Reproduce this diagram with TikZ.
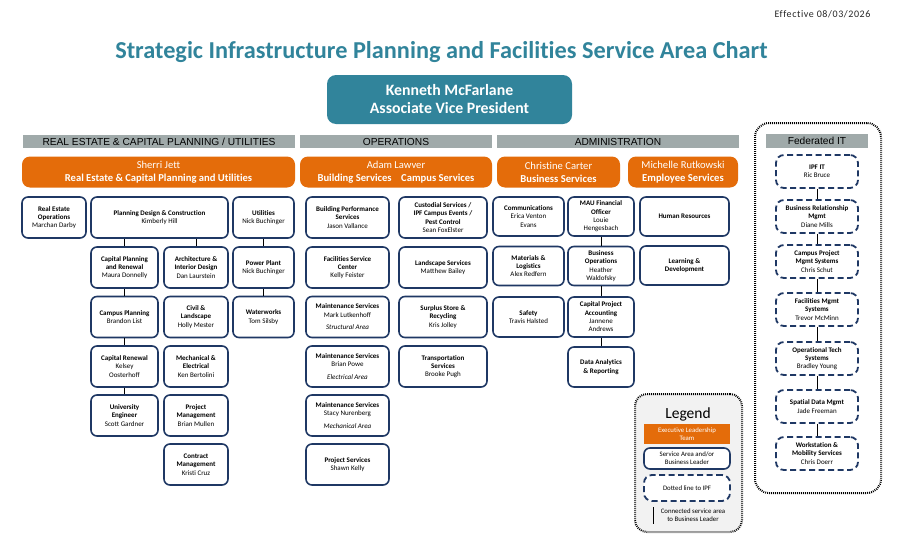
\documentclass[tikz,border=0pt]{standalone}
\usepackage{fontspec}
\setmainfont{Carlito}[Ligatures={TeX,NoCommon}]
\newfontfamily\arialf{Liberation Sans}
\definecolor{tealc}{RGB}{49,132,155}
\definecolor{orng}{RGB}{228,108,10}
\definecolor{navy}{RGB}{31,56,100}
\definecolor{barg}{RGB}{160,170,170}
\definecolor{legbg}{RGB}{242,242,242}
\tikzset{
  unit/.style={draw=navy, line width=1.6pt, rounded corners=6pt, fill=white, align=center,
    font=\fontsize{7}{8.3}\selectfont, inner sep=1pt},
  fedbox/.style={unit, dash pattern=on 6pt off 3.5pt, line width=1.8pt, rounded corners=8pt},
  lead/.style={fill=orng, rounded corners=8pt, text=white, align=center,
    font=\fontsize{10.6}{13}\selectfont, inner sep=1pt},
  secbar/.style={fill=barg, font=\arialf\fontsize{10.2}{10.5}\selectfont, text=black, inner sep=0pt},
  conn/.style={draw=black, line width=0.9pt},
  dotbox/.style={draw=black, line width=2pt, dash pattern=on 0.9pt off 1.1pt, rounded corners=14pt},
}
\begin{document}
\begin{tikzpicture}[x=1pt,y=-1pt]
\fill[white] (0,0) rectangle (900,546);
\useasboundingbox (0,0) rectangle (900,546);

% header
\node[font=\fontsize{10}{11}\selectfont\addfontfeature{LetterSpace=6}, anchor=east, text=black!85] (eff) at (874,14) {Effective 08/03/2026};
\node[font=\fontsize{24.3}{28}\selectfont\bfseries, text=tealc] (title) at (441.5,52) {Strategic Infrastructure Planning and Facilities Service Area Chart};
\node[fill=tealc, rounded corners=9pt, minimum width=245, minimum height=49, text=white, align=center,
  font=\fontsize{15.8}{18}\selectfont\bfseries] (avp) at (449.5,99.5) {Kenneth McFarlane\\Associate Vice President};

% section bars
\node[secbar, minimum width=272, minimum height=13] (bar1) at (159,141.5) {REAL ESTATE \& CAPITAL PLANNING / UTILITIES};
\node[secbar, minimum width=192, minimum height=13] (bar2) at (396,141.5) {OPERATIONS};
\node[secbar, minimum width=242, minimum height=13] (bar3) at (618,141.5) {ADMINISTRATION};

% leaders
\node[lead, minimum width=273, minimum height=31] (sj) at (158.5,172) {Sherri Jett\\\textbf{Real Estate \& Capital Planning and Utilities}};
\node[lead, minimum width=192, minimum height=31] (al) at (396,172) {Adam Lawver\\\textbf{Building Services\hspace{0.9em}Campus Services}};
\node[lead, minimum width=123, minimum height=31] (cc) at (558.5,172) {Christine Carter\\\textbf{Business Services}};
\node[lead, minimum width=110, minimum height=31] (mr) at (683,172) {Michelle Rutkowski\\\textbf{Employee Services}};

% Real estate column
\node[unit, minimum width=64, minimum height=41] (reo) at (54,217.5) {\textbf{Real Estate}\\\textbf{Operations}\\Marchan Darby};
\node[unit, minimum width=137, minimum height=41] (pdc) at (159.5,217.5) {\textbf{Planning Design \& Construction}\\Kimberly Hill};
\node[unit, minimum width=61, minimum height=41] (util) at (263.5,217.5) {\textbf{Utilities}\\Nick Buchinger};
\node[unit, minimum width=67, minimum height=41] (cpr) at (124.5,267.5) {\textbf{Capital Planning}\\\textbf{and Renewal}\\Maura Donnelly};
\node[unit, minimum width=64, minimum height=41] (arch) at (196,267.5) {\textbf{Architecture \&}\\\textbf{Interior Design}\\Dan Laurstein};
\node[unit, minimum width=61, minimum height=41] (pp) at (263.5,267.5) {\textbf{Power Plant}\\Nick Buchinger};
\node[unit, minimum width=67, minimum height=41] (camp) at (124.5,317) {\textbf{Campus Planning}\\Brandon List};
\node[unit, minimum width=64, minimum height=41] (civil) at (196,317) {\textbf{Civil \&}\\\textbf{Landscape}\\Holly Mester};
\node[unit, minimum width=61, minimum height=41] (ww) at (263.5,317) {\textbf{Waterworks}\\Tom Silsby};
\node[unit, minimum width=67, minimum height=41] (caprn) at (124.5,366.5) {\textbf{Capital Renewal}\\Kelsey\\Oosterhoff};
\node[unit, minimum width=64, minimum height=41] (mech) at (196,366.5) {\textbf{Mechanical \&}\\\textbf{Electrical}\\Ken Bertolini};
\node[unit, minimum width=67, minimum height=41] (ue) at (124.5,415.5) {\textbf{University}\\\textbf{Engineer}\\Scott Gardner};
\node[unit, minimum width=64, minimum height=41] (pm) at (196,415.5) {\textbf{Project}\\\textbf{Management}\\Brian Mullen};
\node[unit, minimum width=64, minimum height=41] (cm) at (196,464.5) {\textbf{Contract}\\\textbf{Management}\\Kristi Cruz};

\draw[conn] (cpr.north) -- (cpr.north |- pdc.south);
\draw[conn] (arch.north) -- (arch.north |- pdc.south);
\draw[conn] (cpr) -- (camp);
\draw[conn] (camp) -- (caprn);
\draw[conn] (caprn) -- (ue);
\draw[conn] (util) -- (pp);
\draw[conn] (pp) -- (ww);

% Operations
\node[unit, minimum width=83, minimum height=41] (bps) at (347.5,217.5) {\textbf{Building Performance}\\\textbf{Services}\\Jason Vallance};
\node[unit, minimum width=83, minimum height=41] (fsc) at (347.5,267.5) {\textbf{Facilities Service}\\\textbf{Center}\\Kelly Feister};
\node[unit, minimum width=83, minimum height=41] (ms1) at (347.5,317) {\textbf{Maintenance Services}\\Mark Lutkenhoff\\[4.5pt]\textit{Structural Area}};
\node[unit, minimum width=83, minimum height=41] (ms2) at (347.5,366.5) {\textbf{Maintenance Services}\\Brian Powe\\[4.5pt]\textit{Electrical Area}};
\node[unit, minimum width=83, minimum height=41] (ms3) at (347.5,415.5) {\textbf{Maintenance Services}\\Stacy Nurenberg\\[4.5pt]\textit{Mechanical Area}};
\node[unit, minimum width=83, minimum height=41] (ps) at (347.5,464.5) {\textbf{Project Services}\\Shawn Kelly};
\node[unit, minimum width=88, minimum height=41] (cust) at (443,217.5) {\textbf{Custodial Services /}\\\textbf{IPF Campus Events /}\\\textbf{Pest Control}\\Sean FoxElster};
\node[unit, minimum width=88, minimum height=41] (land) at (443,267.5) {\textbf{Landscape Services}\\Matthew Bailey};
\node[unit, minimum width=88, minimum height=41] (surp) at (443,317) {\textbf{Surplus Store \&}\\\textbf{Recycling}\\Kris Jolley};
\node[unit, minimum width=88, minimum height=41] (trans) at (443,366.5) {\textbf{Transportation}\\\textbf{Services}\\Brooke Pugh};

% Administration
\node[unit, minimum width=71, minimum height=39] (comm) at (528.5,216.5) {\textbf{Communications}\\Erica Venton\\Evans};
\node[unit, minimum width=66, minimum height=39] (mau) at (601,216.5) {\textbf{MAU Financial}\\\textbf{Officer}\\Louie\\Hengesbach};
\node[unit, minimum width=89, minimum height=39] (hr) at (684.5,216.5) {\textbf{Human Resources}};
\node[unit, minimum width=71, minimum height=39] (mat) at (528.5,266) {\textbf{Materials \&}\\\textbf{Logistics}\\Alex Redfern};
\node[unit, minimum width=66, minimum height=39] (bo) at (601,266) {\textbf{Business}\\\textbf{Operations}\\Heather\\Waldofsky};
\node[unit, minimum width=89, minimum height=39] (ld) at (684.5,265.5) {\textbf{Learning \&}\\\textbf{Development}};
\node[unit, minimum width=71, minimum height=40] (saf) at (528.5,317) {\textbf{Safety}\\Travis Halsted};
\node[unit, minimum width=66, minimum height=40] (cpa) at (601,317) {\textbf{Capital Project}\\\textbf{Accounting}\\Jannene\\Andrews};
\node[unit, minimum width=66, minimum height=40] (da) at (601,367) {\textbf{Data Analytics}\\\textbf{\& Reporting}};
\draw[conn] (mau) -- (bo);
\draw[conn] (bo) -- (cpa);
\draw[conn] (cpa) -- (da);

% Federated IT
\node[dotbox, minimum width=126, minimum height=370, inner sep=0pt] (fedarea) at (818,308) {};
\node[secbar, minimum width=102, minimum height=14] (bar4) at (817,141) {Federated IT};
\node[fedbox, minimum width=82, minimum height=33] (f1) at (817,171.5) {\textbf{IPF IT}\\Ric Bruce};
\node[fedbox, minimum width=82, minimum height=33] (f2) at (817,216.5) {\textbf{Business Relationship}\\\textbf{Mgmt}\\Diane Mills};
\node[fedbox, minimum width=82, minimum height=33] (f3) at (817,261.5) {\textbf{Campus Project}\\\textbf{Mgmt Systems}\\Chris Schut};
\node[fedbox, minimum width=82, minimum height=33] (f4) at (817,309.5) {\textbf{Facilities Mgmt}\\\textbf{Systems}\\Trevor McMinn};
\node[fedbox, minimum width=82, minimum height=33] (f5) at (817,358.5) {\textbf{Operational Tech}\\\textbf{Systems}\\Bradley Young};
\node[fedbox, minimum width=82, minimum height=33] (f6) at (817,406.5) {\textbf{Spatial Data Mgmt}\\Jade Freeman};
\node[fedbox, minimum width=82, minimum height=33] (f7) at (817,453.5) {\textbf{Workstation \&}\\\textbf{Mobility Services}\\Chris Doerr};
\draw[conn] (f1) -- (f2);
\draw[conn] (f2) -- (f3);
\draw[conn] (f3) -- (f4);
\draw[conn] (f4) -- (f5);
\draw[conn] (f5) -- (f6);
\draw[conn] (f6) -- (f7);

% Legend
\node[dotbox, fill=legbg, minimum width=107, minimum height=138, inner sep=0pt, rounded corners=12pt] (legend) at (688.5,463) {};
\node[font=\fontsize{15.5}{17}\selectfont] (legt) at (688,414) {Legend};
\node[fill=orng, minimum width=86, minimum height=20, text=white, align=center, inner sep=0pt,
  font=\fontsize{6.8}{8}\selectfont] (lg1) at (687,434) {Executive Leadership\\Team};
\node[unit, minimum width=86, minimum height=21, font=\fontsize{6.8}{8}\selectfont] (lg2) at (687,458.5) {Service Area and/or\\Business Leader};
\node[fedbox, minimum width=86, minimum height=26, font=\fontsize{6.8}{8}\selectfont] (lg3) at (687,488) {Dotted line to IPF};
\coordinate (lgA) at (653,507);
\coordinate (lgB) at (653,524);
\draw[conn, line width=0.8pt] (lgA) -- (lgB);
\node[align=center, font=\fontsize{6.8}{8}\selectfont] (lg4) at (693,515.5) {Connected service area\\to Business Leader};
\end{tikzpicture}
\end{document}
